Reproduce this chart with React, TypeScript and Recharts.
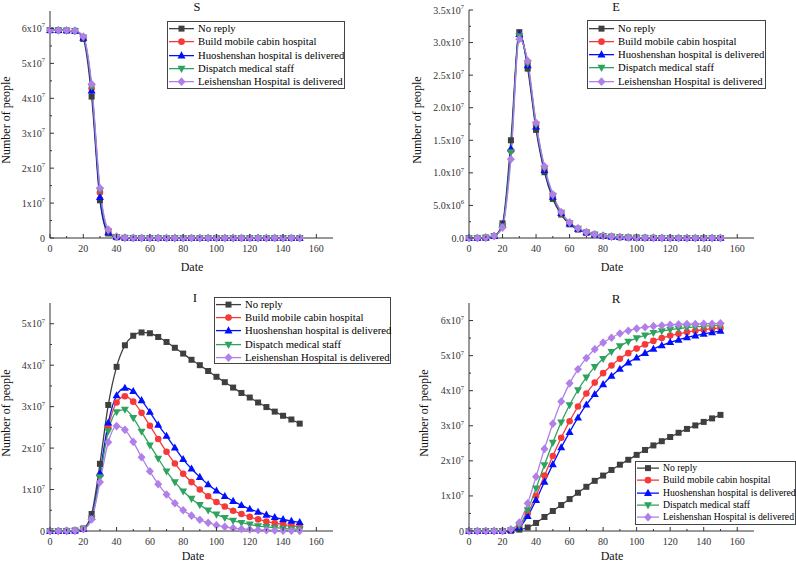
import React from 'react';
import { LineChart, Line, XAxis, YAxis, Legend } from 'recharts';

// Days (x values)
const days = [0, 5, 10, 15, 20, 25, 30, 35, 40, 45, 50, 55, 60, 65, 70, 75, 80, 85, 90, 95, 100, 105, 110, 115, 120, 125, 130, 135, 140, 145, 150];

const seriesNames = [
  'No reply',
  'Build mobile cabin hospital',
  'Huoshenshan hospital is delivered',
  'Dispatch medical staff',
  'Leishenshan Hospital is delivered',
];

// values in units of 10^7 people
// S
const sNoReply = [5.95, 5.95, 5.94, 5.93, 5.70, 4.05, 1.08, 0.13, 0.02, 0.005, 0.002, 0.001, 0.001, 0, 0, 0, 0, 0, 0, 0, 0, 0, 0, 0, 0, 0, 0, 0, 0, 0, 0];
const sBuild = [5.95, 5.95, 5.94, 5.93, 5.74, 4.28, 1.30, 0.18, 0.03, 0.006, 0.002, 0.001, 0.001, 0, 0, 0, 0, 0, 0, 0, 0, 0, 0, 0, 0, 0, 0, 0, 0, 0, 0];
const sHuo = [5.95, 5.95, 5.94, 5.93, 5.73, 4.22, 1.17, 0.16, 0.03, 0.006, 0.002, 0.001, 0.001, 0, 0, 0, 0, 0, 0, 0, 0, 0, 0, 0, 0, 0, 0, 0, 0, 0, 0];
const sDispatch = [5.95, 5.95, 5.94, 5.93, 5.75, 4.33, 1.36, 0.20, 0.035, 0.007, 0.003, 0.001, 0.001, 0, 0, 0, 0, 0, 0, 0, 0, 0, 0, 0, 0, 0, 0, 0, 0, 0, 0];
const sLei = [5.95, 5.95, 5.94, 5.93, 5.77, 4.41, 1.43, 0.24, 0.04, 0.008, 0.003, 0.001, 0.001, 0, 0, 0, 0, 0, 0, 0, 0, 0, 0, 0, 0, 0, 0, 0, 0, 0, 0];

// E
const eNoReply = [0, 0.001, 0.005, 0.03, 0.225, 1.50, 3.16, 2.60, 1.66, 1.01, 0.60, 0.36, 0.21, 0.13, 0.08, 0.05, 0.03, 0.02, 0.012, 0.008, 0.005, 0.003, 0.002, 0.001, 0.001, 0, 0, 0, 0, 0, 0];
const eBuild = [0, 0.001, 0.005, 0.03, 0.19, 1.34, 3.12, 2.67, 1.73, 1.06, 0.64, 0.38, 0.23, 0.14, 0.087, 0.053, 0.033, 0.02, 0.013, 0.008, 0.005, 0.003, 0.002, 0.001, 0.001, 0, 0, 0, 0, 0, 0];
const eHuo = [0, 0.001, 0.005, 0.03, 0.20, 1.37, 3.13, 2.65, 1.71, 1.04, 0.63, 0.38, 0.22, 0.14, 0.085, 0.052, 0.032, 0.02, 0.012, 0.008, 0.005, 0.003, 0.002, 0.001, 0.001, 0, 0, 0, 0, 0, 0];
const eDispatch = [0, 0.001, 0.005, 0.03, 0.18, 1.32, 3.10, 2.68, 1.74, 1.07, 0.65, 0.39, 0.23, 0.145, 0.088, 0.054, 0.034, 0.021, 0.013, 0.008, 0.005, 0.003, 0.002, 0.001, 0.001, 0, 0, 0, 0, 0, 0];
const eLei = [0, 0.001, 0.005, 0.03, 0.16, 1.21, 3.05, 2.72, 1.77, 1.10, 0.67, 0.40, 0.24, 0.15, 0.09, 0.055, 0.034, 0.021, 0.013, 0.008, 0.005, 0.003, 0.002, 0.001, 0.001, 0, 0, 0, 0, 0, 0];

// I
const iNoReply = [0, 0, 0.002, 0.01, 0.06, 0.41, 1.62, 3.04, 3.96, 4.48, 4.71, 4.79, 4.77, 4.68, 4.56, 4.42, 4.28, 4.13, 4.00, 3.86, 3.72, 3.59, 3.46, 3.33, 3.22, 3.10, 2.99, 2.88, 2.78, 2.69, 2.59];
const iBuild = [0, 0, 0.002, 0.01, 0.05, 0.32, 1.35, 2.50, 3.10, 3.25, 3.12, 2.85, 2.54, 2.22, 1.91, 1.63, 1.38, 1.18, 1.00, 0.84, 0.70, 0.59, 0.49, 0.41, 0.34, 0.28, 0.23, 0.19, 0.16, 0.13, 0.11];
const iHuo = [0, 0, 0.002, 0.01, 0.05, 0.33, 1.39, 2.61, 3.27, 3.45, 3.37, 3.15, 2.87, 2.56, 2.29, 2.01, 1.73, 1.50, 1.30, 1.12, 0.97, 0.84, 0.72, 0.62, 0.53, 0.46, 0.39, 0.33, 0.28, 0.24, 0.21];
const iDispatch = [0, 0, 0.002, 0.01, 0.05, 0.30, 1.30, 2.41, 2.87, 2.93, 2.73, 2.40, 2.07, 1.75, 1.44, 1.18, 0.96, 0.78, 0.63, 0.50, 0.40, 0.32, 0.25, 0.20, 0.16, 0.12, 0.10, 0.08, 0.06, 0.05, 0.04];
const iLei = [0, 0, 0.002, 0.01, 0.05, 0.28, 1.18, 2.14, 2.53, 2.44, 2.15, 1.78, 1.44, 1.13, 0.88, 0.67, 0.50, 0.37, 0.27, 0.20, 0.14, 0.10, 0.07, 0.05, 0.035, 0.025, 0.018, 0.013, 0.009, 0.006, 0.004];

// R
const rNoReply = [0, 0, 0, 0, 0, 0.005, 0.04, 0.10, 0.23, 0.40, 0.57, 0.74, 0.91, 1.09, 1.26, 1.43, 1.58, 1.74, 1.89, 2.03, 2.17, 2.31, 2.44, 2.56, 2.68, 2.80, 2.91, 3.01, 3.11, 3.21, 3.31];
const rBuild = [0, 0, 0, 0, 0, 0.02, 0.12, 0.50, 1.00, 1.58, 2.14, 2.66, 3.13, 3.55, 3.92, 4.23, 4.50, 4.72, 4.91, 5.07, 5.20, 5.32, 5.42, 5.50, 5.57, 5.62, 5.67, 5.71, 5.74, 5.77, 5.79];
const rHuo = [0, 0, 0, 0, 0, 0.02, 0.10, 0.42, 0.88, 1.40, 1.90, 2.38, 2.82, 3.23, 3.60, 3.90, 4.18, 4.42, 4.62, 4.80, 4.94, 5.07, 5.19, 5.29, 5.38, 5.45, 5.52, 5.57, 5.62, 5.66, 5.70];
const rDispatch = [0, 0, 0, 0, 0, 0.03, 0.16, 0.60, 1.22, 1.88, 2.52, 3.10, 3.59, 4.02, 4.38, 4.68, 4.91, 5.11, 5.27, 5.40, 5.50, 5.58, 5.65, 5.70, 5.74, 5.77, 5.80, 5.82, 5.84, 5.85, 5.86];
const rLei = [0, 0, 0, 0, 0, 0.05, 0.24, 0.79, 1.55, 2.34, 3.06, 3.69, 4.21, 4.61, 4.93, 5.18, 5.37, 5.51, 5.63, 5.71, 5.77, 5.81, 5.84, 5.86, 5.88, 5.89, 5.90, 5.90, 5.91, 5.91, 5.92];

// ticks
const xTicks = [0, 10, 20, 30, 40, 50, 60, 70, 80, 90, 100, 110, 120, 130, 140, 150, 160];
const yTicksS = [0, 0.5, 1, 1.5, 2, 2.5, 3, 3.5, 4, 4.5, 5, 5.5, 6];
const yTicksE = [0, 0.25, 0.5, 0.75, 1, 1.25, 1.5, 1.75, 2, 2.25, 2.5, 2.75, 3, 3.25, 3.5];
const yTicksI = [0, 0.5, 1, 1.5, 2, 2.5, 3, 3.5, 4, 4.5, 5];
const yTicksR = [0, 0.5, 1, 1.5, 2, 2.5, 3, 3.5, 4, 4.5, 5, 5.5, 6];

const KEYS = ['a', 'b', 'c', 'd', 'e'];
const STYLES = [
  { color: '#3f3f3f', shape: 'square' },
  { color: '#f53a3a', shape: 'circle' },
  { color: '#0010ff', shape: 'up' },
  { color: '#2ea35e', shape: 'down' },
  { color: '#b07fe8', shape: 'diamond' },
];
const FONT = 'Liberation Serif, DejaVu Serif, serif';
const AXIS = '#333';

function buildRows(cols: number[][]) {
  return days.map((d, i) => {
    const r: any = { day: d };
    cols.forEach((c, j) => (r[KEYS[j]] = c[i]));
    return r;
  });
}

function Marker({ shape, cx, cy, color }: any) {
  if (shape === 'square') return <rect x={cx - 3} y={cy - 3} width={6} height={6} fill={color} />;
  if (shape === 'circle') return <circle cx={cx} cy={cy} r={3.3} fill={color} />;
  if (shape === 'up') return <polygon points={`${cx},${cy - 4.3} ${cx - 4},${cy + 2.8} ${cx + 4},${cy + 2.8}`} fill={color} />;
  if (shape === 'down') return <polygon points={`${cx - 4},${cy - 2.8} ${cx + 4},${cy - 2.8} ${cx},${cy + 4.3}`} fill={color} />;
  return <polygon points={`${cx},${cy - 4.3} ${cx + 4},${cy} ${cx},${cy + 4.3} ${cx - 4},${cy}`} fill={color} />;
}

const fmtSci = (v: number): [string, string | null] => (v === 0 ? ['0', null] : [`${v}x10`, '7']);
const fmtE = (v: number): [string, string | null] => {
  if (v === 0) return ['0.0', null];
  if (v < 1) return [`${(v * 10).toFixed(1)}x10`, '6'];
  return [`${v.toFixed(1)}x10`, '7'];
};

const isMul = (v: number, step: number) => Math.abs(v / step - Math.round(v / step)) < 1e-6;

const makeYTick = (fmt: any, major: number) => (props: any) => {
  const { x, y, payload } = props;
  const v = payload.value;
  const mj = isMul(v, major);
  const [base, sup] = fmt(v);
  return (
    <g>
      <line x1={x} x2={x + (mj ? 4 : 2)} y1={y} y2={y} stroke={AXIS} strokeWidth={1} />
      {mj && (
        <text x={x - 5} y={y + 3.5} textAnchor="end" fontFamily={FONT} fontSize={10} fill="#333">
          <tspan>{base}</tspan>
          {sup && <tspan dy={-4.5} fontSize={6.5}>{sup}</tspan>}
        </text>
      )}
    </g>
  );
};

const XTick = (props: any) => {
  const { x, y, payload } = props;
  const v = payload.value;
  const mj = v % 20 === 0;
  return (
    <g>
      <line x1={x} x2={x} y1={y} y2={y - (mj ? 4 : 2)} stroke={AXIS} strokeWidth={1} />
      {mj && (
        <text x={x} y={y + 14} textAnchor="middle" fontFamily={FONT} fontSize={10} fill="#333">
          {v}
        </text>
      )}
    </g>
  );
};

const makeLegend = (lg: any) => () => (
  <div
    style={{
      width: lg.w,
      height: lg.h,
      boxSizing: 'border-box',
      border: '1px solid #444',
      background: '#fff',
      paddingTop: lg.pt,
      fontFamily: FONT,
      fontSize: lg.fs,
      color: '#000',
    }}
  >
    {seriesNames.map((n, i) => (
      <div key={n} style={{ height: lg.row, lineHeight: `${lg.row}px`, display: 'flex', alignItems: 'center', whiteSpace: 'nowrap' }}>
        <svg width={lg.iw} height={lg.row} style={{ flex: 'none' }}>
          <line x1={1} x2={lg.iw - 2} y1={lg.row / 2} y2={lg.row / 2} stroke={STYLES[i].color} strokeWidth={1.3} />
          <Marker shape={STYLES[i].shape} cx={(lg.iw - 1) / 2} cy={lg.row / 2} color={STYLES[i].color} />
        </svg>
        <span style={{ marginLeft: 2 }}>{n}</span>
      </div>
    ))}
  </div>
);

const panels = [
  {
    id: 'S', left: 0, top: 0, w: 400, h: 281, mt: 11, mr: 67, yw: 50, xh: 43,
    yMax: 6.5, yTicks: yTicksS, major: 1, fmt: fmtSci,
    cols: [sNoReply, sBuild, sHuo, sDispatch, sLei],
    legend: { left: 167, top: 21, w: 178, h: 68, fs: 10.7, row: 13.25, pt: 0, iw: 28 },
  },
  {
    id: 'E', left: 400, top: 0, w: 396, h: 281, mt: 10, mr: 42, yw: 69, xh: 43,
    yMax: 3.5, yTicks: yTicksE, major: 0.5, fmt: fmtE,
    cols: [eNoReply, eBuild, eHuo, eDispatch, eLei],
    legend: { left: 187, top: 20, w: 179, h: 69, fs: 10.7, row: 13.3, pt: 0.5, iw: 28 },
  },
  {
    id: 'I', left: 0, top: 281, w: 400, h: 282, mt: 22, mr: 67, yw: 50, xh: 32,
    yMax: 5.5, yTicks: yTicksI, major: 1, fmt: fmtSci,
    cols: [iNoReply, iBuild, iHuo, iDispatch, iLei],
    legend: { left: 214, top: 16, w: 177, h: 67, fs: 10.7, row: 13.2, pt: 0, iw: 28 },
  },
  {
    id: 'R', left: 400, top: 281, w: 396, h: 282, mt: 22, mr: 42, yw: 69, xh: 32,
    yMax: 6.5, yTicks: yTicksR, major: 1, fmt: fmtSci,
    cols: [rNoReply, rBuild, rHuo, rDispatch, rLei],
    legend: { left: 235, top: 180, w: 161, h: 64, fs: 9.7, row: 12.25, pt: 0, iw: 25 },
  },
];

function Panel({ p }: any) {
  const data = buildRows(p.cols);
  return (
    <div style={{ position: 'absolute', left: p.left, top: p.top, width: p.w, height: p.h }}>
      <LineChart width={p.w} height={p.h} data={data} margin={{ top: p.mt, right: p.mr, bottom: 0, left: 0 }}>
        <XAxis
          dataKey="day"
          type="number"
          domain={[0, 170]}
          ticks={xTicks}
          interval={0}
          height={p.xh}
          tickLine={false}
          tickSize={0}
          tickMargin={0}
          tick={XTick}
          axisLine={{ stroke: AXIS, strokeWidth: 1 }}
        />
        <YAxis
          type="number"
          domain={[0, p.yMax]}
          ticks={p.yTicks}
          interval={0}
          width={p.yw}
          tickLine={false}
          tickSize={0}
          tickMargin={0}
          tick={makeYTick(p.fmt, p.major)}
          axisLine={{ stroke: AXIS, strokeWidth: 1 }}
        />
        {KEYS.map((k, i) => (
          <Line
            key={k}
            type="monotone"
            dataKey={k}
            name={seriesNames[i]}
            stroke={STYLES[i].color}
            strokeWidth={1.3}
            isAnimationActive={false}
            dot={(dp: any) => (
              <Marker key={`${k}-${dp.index}`} shape={STYLES[i].shape} cx={dp.cx} cy={dp.cy} color={STYLES[i].color} />
            )}
            activeDot={false}
          />
        ))}
        <Legend
          layout="horizontal"
          verticalAlign="middle"
          align="center"
          content={makeLegend(p.legend)}
          wrapperStyle={{ left: p.legend.left, top: p.legend.top, width: p.legend.w, height: p.legend.h }}
        />
      </LineChart>
    </div>
  );
}

export default function App() {
  return (
    <div style={{ position: 'absolute', left: 0, top: 0, width: 796, height: 563, background: '#fff', overflow: 'hidden' }}>
      {panels.map((p) => (
        <Panel key={p.id} p={p} />
      ))}
      <svg width={796} height={563} style={{ position: 'absolute', left: 0, top: 0, pointerEvents: 'none' }}>
        <g fontFamily={FONT} fill="#111">
          <text x={197} y={11} fontSize={12.5} textAnchor="middle">S</text>
          <text x={616} y={11} fontSize={12.5} textAnchor="middle">E</text>
          <text x={195} y={302} fontSize={13} textAnchor="middle">I</text>
          <text x={616} y={303} fontSize={13} textAnchor="middle">R</text>
          <text x={192} y={271} fontSize={12} textAnchor="middle">Date</text>
          <text x={612} y={271} fontSize={12} textAnchor="middle">Date</text>
          <text x={193} y={560} fontSize={12} textAnchor="middle">Date</text>
          <text x={612} y={560} fontSize={12} textAnchor="middle">Date</text>
          <text transform="translate(10,120) rotate(-90)" fontSize={12} textAnchor="middle">Number of people</text>
          <text transform="translate(421,120) rotate(-90)" fontSize={12} textAnchor="middle">Number of people</text>
          <text transform="translate(10,413) rotate(-90)" fontSize={12} textAnchor="middle">Number of people</text>
          <text transform="translate(428,413) rotate(-90)" fontSize={12} textAnchor="middle">Number of people</text>
        </g>
      </svg>
    </div>
  );
}
